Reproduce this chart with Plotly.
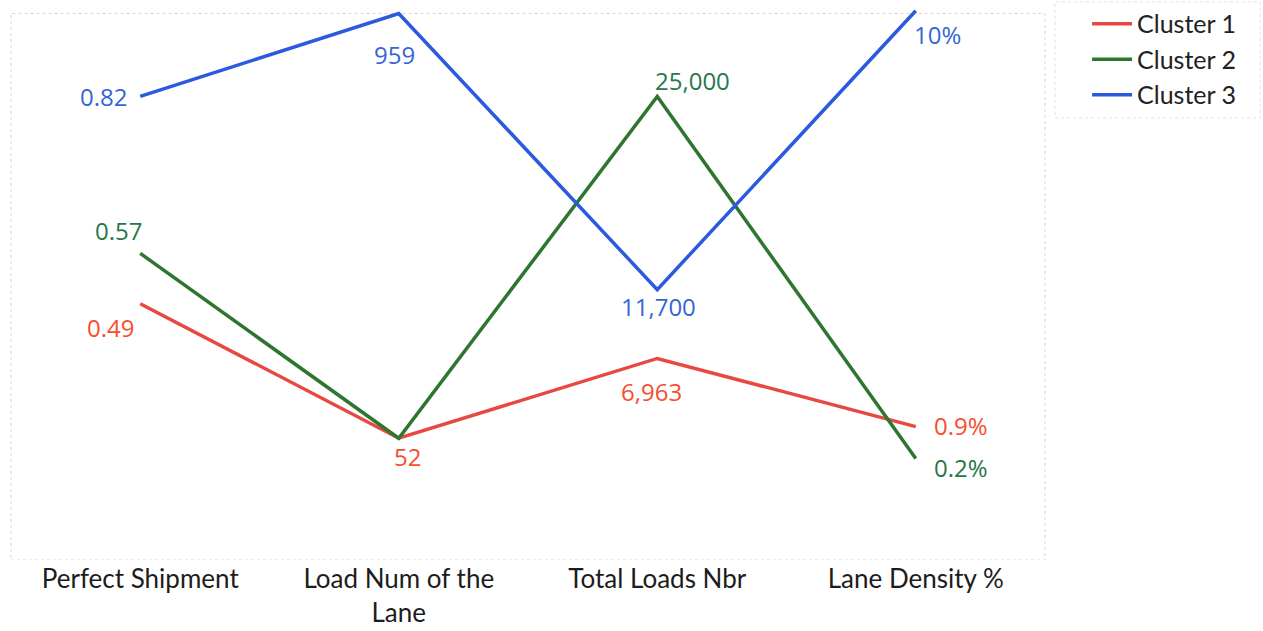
import plotly.graph_objects as go

# Metrics shown on the horizontal axis
metrics = ["Perfect Shipment", "Load Num of the<br>Lane", "Total Loads Nbr", "Lane Density %"]

# Cluster profile values for each metric
cluster_names = ["Cluster 1", "Cluster 2", "Cluster 3"]
cluster1 = [0.49, 52, 6963, 0.9]
cluster2 = [0.57, 52, 25000, 0.2]
cluster3 = [0.82, 959, 11700, 10]

# Each metric has its own scale (value at the bottom / top of the plot)
scale_lo = [0.082, -208, -6909, -2.02]
scale_hi = [0.952, 959, 30708, 9.94]

# Text shown next to each point
labels1 = ["0.49", "52", "6,963", "0.9%"]
labels2 = ["0.57", "", "25,000", "0.2%"]
labels3 = ["0.82", "959", "11,700", "10%"]

line_colors = ["rgb(232,72,66)", "rgb(46,117,46)", "rgb(43,90,222)"]
text_colors = ["rgb(246,78,48)", "rgb(38,120,72)", "rgb(52,102,214)"]

# label placement per point: (xanchor, xshift, yshift)
label_place = [
    [("center", -30, -24), ("center", 9, -18), ("center", -6, -33), ("left", 16, 1)],
    [("center", -22, 23), ("center", 0, 0), ("left", -4, 16), ("left", 16, -9)],
    [("right", -11, 0), ("center", -4, -41), ("center", 1, -17), ("center", 22, -24)],
]


def to_unit(values):
    return [(v - lo) / (hi - lo) for v, lo, hi in zip(values, scale_lo, scale_hi)]


fig = go.Figure()
series = [cluster1, cluster2, cluster3]
texts = [labels1, labels2, labels3]

for i, (name, vals) in enumerate(zip(cluster_names, series)):
    fig.add_trace(go.Scatter(
        x=metrics, y=to_unit(vals), mode="lines", name=name,
        line=dict(color=line_colors[i], width=3.5),
        hoverinfo="skip",
    ))

for i, vals in enumerate(series):
    ys = to_unit(vals)
    for j, (m, y, t) in enumerate(zip(metrics, ys, texts[i])):
        if not t:
            continue
        xa, xs, ys_ = label_place[i][j]
        fig.add_annotation(
            x=m, y=y, xref="x", yref="y", text=t, showarrow=False,
            xanchor=xa, yanchor="middle", xshift=xs, yshift=ys_,
            font=dict(family="Open Sans", size=24, color=text_colors[i]),
        )

# faint dotted frame around the plotting area
fig.add_shape(type="rect", xref="paper", yref="y", x0=0, x1=1, y0=0, y1=1,
              line=dict(color="rgb(215,215,215)", width=1, dash="dot"), layer="below")
# faint dotted box around the legend
fig.add_shape(type="rect", xref="paper", yref="paper", x0=1.0097, x1=1.208, y0=0.8007, y1=1.0109,
              line=dict(color="rgb(225,225,225)", width=1, dash="dot"), layer="below")

fig.update_layout(
    width=1263, height=631,
    margin=dict(l=11, r=218, t=8, b=71, autoexpand=False),
    paper_bgcolor="white", plot_bgcolor="white",
    showlegend=True,
    legend=dict(
        x=1.0407, y=1.0127, xanchor="left", yanchor="top",
        font=dict(family="Lato", size=25, color="#222222"),
        borderwidth=0, bgcolor="rgba(0,0,0,0)",
        itemwidth=40,
    ),
    xaxis=dict(
        type="category", range=[-0.5, 3.5], showgrid=False, zeroline=False,
        showline=False, ticks="", ticklabelstandoff=1,
        tickfont=dict(family="Lato", size=26, color="#1c1c1c"),
    ),
    yaxis=dict(range=[0, 1.01], visible=False, showgrid=False, zeroline=False),
)

fig.write_html("out.html")
